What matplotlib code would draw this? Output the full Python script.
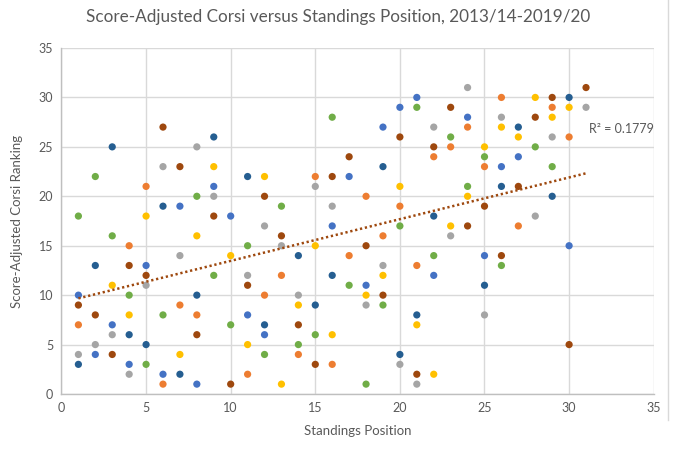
import numpy as np
import matplotlib
matplotlib.use("Agg")
import matplotlib.pyplot as plt
from matplotlib.lines import Line2D

plt.rcParams['font.family'] = ['Lato', 'DejaVu Sans']

# (standings position, score-adjusted Corsi ranking) per season series
s1_pos = [1, 2, 3, 4, 5, 6, 7, 8, 9, 10, 11, 12, 16, 17, 18, 19, 20, 21, 22, 24, 25, 26, 27, 30]
s1_rank = [10, 4, 7, 3, 13, 2, 19, 1, 21, 18, 8, 6, 17, 22, 11, 27, 29, 30, 12, 28, 14, 23, 24, 15]

s2_pos = [1, 4, 5, 6, 7, 8, 11, 12, 13, 14, 15, 16, 17, 18, 19, 20, 21, 22, 23, 24, 25, 26, 27, 29, 30]
s2_rank = [7, 15, 21, 1, 9, 8, 2, 10, 12, 4, 22, 3, 14, 20, 16, 19, 13, 24, 25, 27, 23, 30, 17, 29, 26]

s3_pos = [1, 2, 3, 4, 5, 6, 7, 8, 9, 11, 12, 13, 14, 15, 16, 18, 19, 20, 21, 22, 23, 24, 25, 26, 28, 29, 31]
s3_rank = [4, 5, 6, 2, 11, 23, 14, 25, 20, 12, 17, 15, 10, 21, 19, 9, 13, 3, 1, 27, 16, 31, 8, 28, 18, 26, 29]

s4_pos = [3, 4, 5, 7, 8, 9, 10, 11, 12, 13, 14, 15, 16, 18, 19, 20, 21, 22, 23, 24, 25, 26, 27, 28, 29, 30]
s4_rank = [11, 8, 18, 4, 16, 23, 14, 5, 22, 1, 9, 15, 6, 10, 12, 21, 7, 2, 17, 20, 25, 27, 26, 30, 28, 29]

s5_pos = [1, 2, 3, 4, 5, 6, 8, 9, 10, 11, 12, 13, 14, 15, 16, 17, 18, 19, 20, 21, 22, 23, 24, 25, 26, 28, 29]
s5_rank = [18, 22, 16, 10, 3, 8, 20, 12, 7, 15, 4, 19, 5, 6, 28, 11, 1, 9, 17, 29, 14, 26, 21, 24, 13, 25, 23]

s6_pos = [1, 2, 3, 4, 5, 6, 7, 8, 9, 11, 12, 14, 15, 16, 19, 20, 21, 22, 25, 26, 27, 29, 30]
s6_rank = [3, 13, 25, 6, 5, 19, 2, 10, 26, 22, 7, 14, 9, 12, 23, 4, 8, 18, 11, 21, 27, 20, 30]

s7_pos = list(range(1, 32))
s7_rank = [9, 8, 4, 13, 12, 27, 23, 6, 18, 1, 11, 20, 16, 7, 3, 22, 24, 15, 10, 26,
           2, 25, 29, 17, 19, 14, 21, 28, 30, 5, 31]

series = [
    (s1_pos, s1_rank, '#4472C4'),
    (s2_pos, s2_rank, '#ED7D31'),
    (s3_pos, s3_rank, '#A5A5A5'),
    (s4_pos, s4_rank, '#FFC000'),
    (s5_pos, s5_rank, '#70AD47'),
    (s6_pos, s6_rank, '#255E91'),
    (s7_pos, s7_rank, '#9E480E'),
]

x_ticks = [0, 5, 10, 15, 20, 25, 30, 35]
y_ticks = [0, 5, 10, 15, 20, 25, 30, 35]

fig = plt.figure(figsize=(6.77, 4.58), dpi=100)
ax = fig.add_axes([0.0908, 0.1397, 0.8748, 0.7555])

for px, py, c in series:
    ax.scatter(px, py, s=27, color=c, edgecolors='none', zorder=3)

# linear trendline on the last series
tx = np.array(s7_pos, dtype=float)
ty = np.array(s7_rank, dtype=float)
slope, intercept = np.polyfit(tx, ty, 1)
r2 = np.corrcoef(tx, ty)[0, 1] ** 2
xl = np.array([tx.min(), tx.max()])
ax.plot(xl, slope * xl + intercept, color='#9E480E', linewidth=1.8,
        linestyle=(0, (0.9, 1.1)), dash_capstyle='butt', zorder=4)
ax.text(31.15, 26.8, f"R² = {r2:.4f}", fontsize=9, color='#595959',
        va='center', ha='left', zorder=5)

ax.set_xlim(0, 35)
ax.set_ylim(0, 35)
ax.set_xticks(x_ticks)
ax.set_yticks(y_ticks)
ax.grid(True, color='#D9D9D9', linewidth=1.0, zorder=0)
ax.set_axisbelow(True)
for side in ['top', 'right']:
    ax.spines[side].set_visible(False)
for side in ['left', 'bottom']:
    ax.spines[side].set_color('#BFBFBF')
    ax.spines[side].set_linewidth(1.0)
ax.tick_params(axis='both', length=0, labelsize=9, labelcolor='#595959', pad=6)

ax.set_xlabel('Standings Position', fontsize=9.5, color='#595959', labelpad=8)
ax.set_ylabel('Score-Adjusted Corsi Ranking', fontsize=9.5, color='#595959', labelpad=11)

fig.text(0.5, 0.962, 'Score-Adjusted Corsi versus Standings Position, 2013/14-2019/20',
         ha='center', va='center', fontsize=12.3, color='#595959')

# chart frame edge on the right
fig.add_artist(Line2D([668 / 677, 668 / 677], [1.0, 1 - 420 / 458],
                      color='#D9D9D9', linewidth=1.0))

fig.savefig('out.png', dpi=100)
